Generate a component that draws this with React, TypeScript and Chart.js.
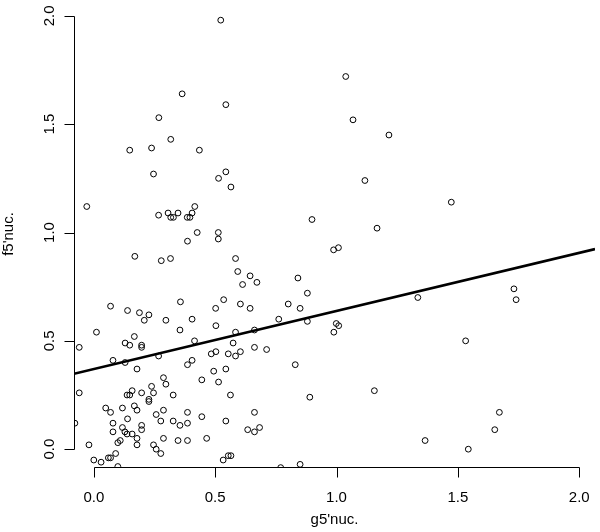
import React, { useEffect, useRef } from "react";
import { Chart, registerables } from "chart.js";

Chart.register(...registerables);

// g5'nuc. values (x)
const gValues = [
  0.523, 0.364, 0.544, 0.268, 0.317, 0.148, 0.238, 0.435, 0.246, 0.544,
  0.514, 0.565, -0.029, 0.416, 0.267, 0.306, 0.317, 0.328, 0.347, 0.385,
  0.396, 0.405, 0.426, 0.386, 0.513, 0.513, 1.038, 1.068, 1.216, 1.117,
  1.473, 0.899, 1.167, 0.988, 1.008, 0.169, 0.278, 0.316, 0.357, 0.069,
  0.139, 0.188, 0.227, 0.208, 0.297, 0.405, 0.502, 0.584, 0.593, 0.644,
  0.613, 0.672, 0.841, 0.88, 0.535, 0.604, 0.644, 0.801, 0.85, 0.762,
  0.011, -0.06, 0.129, 0.148, 0.167, 0.197, 0.197, 0.355, 0.415, 0.503,
  0.584, 0.662, 0.574, 0.079, 0.129, 0.178, 0.267, 0.405, 0.386, 0.484,
  0.503, 0.554, 0.584, 0.604, 0.662, 0.712, 0.494, 0.544, 0.445, 0.514,
  0.287, 0.297, 0.238, 0.246, 0.197, 0.158, 0.137, 0.148, -0.06, 0.227,
  0.227, 0.327, 0.563, 0.049, 0.069, 0.118, 0.167, 0.178, 0.139, 0.257,
  0.287, 0.386, 0.445, 0.662, 0.079, 0.079, 0.118, 0.128, 0.137, 0.158,
  0.197, 0.197, 0.276, 0.327, 0.355, 0.386, 0.544, 0.634, 0.662, 0.683,
  -0.078, 0.178, 0.178, 0.099, 0.109, -0.02, 0.287, 0.347, 0.386, 0.465,
  0.246, 0.257, 0.276, 0.09, 0.069, 0.06, 0.0, 0.03, 0.099, 0.533,
  0.554, 0.565, 0.83, 0.88, 0.999, 1.009, 0.989, 0.89, 0.85, 1.335,
  1.731, 1.74, 1.532, 1.156, 1.671, 1.652, 1.365, 1.543, 0.77,
];

// f5'nuc. values (y)
const fValues = [
  1.98, 1.64, 1.59, 1.53, 1.43, 1.38, 1.39, 1.38, 1.27, 1.28,
  1.25, 1.21, 1.12, 1.12, 1.08, 1.09, 1.07, 1.07, 1.09, 1.07,
  1.07, 1.09, 1.0, 0.96, 1.0, 0.97, 1.72, 1.52, 1.45, 1.24,
  1.14, 1.06, 1.02, 0.92, 0.93, 0.89, 0.87, 0.88, 0.68, 0.66,
  0.64, 0.63, 0.62, 0.595, 0.595, 0.6, 0.65, 0.88, 0.82, 0.8,
  0.76, 0.77, 0.79, 0.72, 0.69, 0.67, 0.65, 0.67, 0.65, 0.6,
  0.54, 0.47, 0.49, 0.48, 0.52, 0.48, 0.47, 0.55, 0.5, 0.57,
  0.54, 0.55, 0.49, 0.41, 0.4, 0.37, 0.43, 0.41, 0.39, 0.44,
  0.45, 0.44, 0.43, 0.45, 0.47, 0.46, 0.36, 0.37, 0.32, 0.31,
  0.33, 0.3, 0.29, 0.26, 0.26, 0.27, 0.25, 0.25, 0.26, 0.23,
  0.22, 0.25, 0.25, 0.19, 0.17, 0.19, 0.2, 0.18, 0.14, 0.16,
  0.18, 0.17, 0.15, 0.17, 0.12, 0.08, 0.1, 0.08, 0.07, 0.07,
  0.11, 0.09, 0.13, 0.13, 0.11, 0.12, 0.13, 0.09, 0.08, 0.1,
  0.12, 0.05, 0.02, 0.03, 0.04, 0.02, 0.05, 0.04, 0.04, 0.05,
  0.02, 0.0, -0.02, -0.02, -0.04, -0.04, -0.05, -0.06, -0.08, -0.05,
  -0.03, -0.03, 0.39, 0.59, 0.58, 0.57, 0.54, 0.24, -0.07, 0.7,
  0.74, 0.69, 0.5, 0.27, 0.17, 0.09, 0.04, 0.0, -0.085,
];

// fitted line
const fitIntercept = 0.37;
const fitSlope = 0.268;

// axis ranges and ticks
const xRange = [-0.0816, 2.065];
const yRange = [-0.0822, 2.05];
const xTicks = [0, 0.5, 1, 1.5, 2];
const yTicks = [0, 0.5, 1, 1.5, 2];
const xTickLabels = ["0.0", "0.5", "1.0", "1.5", "2.0"];
const yTickLabels = ["0.0", "0.5", "1.0", "1.5", "2.0"];
const xTitle = "g5'nuc.";
const yTitle = "f5'nuc.";

const FONT = "15px 'Liberation Sans', Arial, Helvetica, sans-serif";

const rAxesPlugin = {
  id: "rAxes",
  afterDraw(chart: any) {
    const { ctx, chartArea } = chart;
    const xs = chart.scales.x;
    const ys = chart.scales.y;
    ctx.save();
    ctx.strokeStyle = "#000";
    ctx.fillStyle = "#000";
    ctx.lineWidth = 1;
    ctx.font = FONT;

    // x axis
    const yAx = Math.round(chartArea.bottom) + 0.5;
    const x0 = xs.getPixelForValue(xTicks[0]);
    const x1 = xs.getPixelForValue(xTicks[xTicks.length - 1]);
    ctx.beginPath();
    ctx.moveTo(Math.round(x0) + 0.5, yAx);
    ctx.lineTo(Math.round(x1) + 0.5, yAx);
    xTicks.forEach((v) => {
      const px = Math.round(xs.getPixelForValue(v)) + 0.5;
      ctx.moveTo(px, yAx);
      ctx.lineTo(px, yAx + 10);
    });
    ctx.stroke();
    ctx.textAlign = "center";
    ctx.textBaseline = "alphabetic";
    xTicks.forEach((v, i) => {
      ctx.fillText(xTickLabels[i], xs.getPixelForValue(v), yAx + 34);
    });
    ctx.fillText(xTitle, (chartArea.left + chartArea.right) / 2, yAx + 56);

    // y axis
    const xAx = Math.round(chartArea.left) + 0.5;
    const y0 = ys.getPixelForValue(yTicks[0]);
    const y1 = ys.getPixelForValue(yTicks[yTicks.length - 1]);
    ctx.beginPath();
    ctx.moveTo(xAx, Math.round(y0) + 0.5);
    ctx.lineTo(xAx, Math.round(y1) + 0.5);
    yTicks.forEach((v) => {
      const py = Math.round(ys.getPixelForValue(v)) + 0.5;
      ctx.moveTo(xAx, py);
      ctx.lineTo(xAx - 10, py);
    });
    ctx.stroke();
    yTicks.forEach((v, i) => {
      ctx.save();
      ctx.translate(xAx - 21, ys.getPixelForValue(v));
      ctx.rotate(-Math.PI / 2);
      ctx.fillText(yTickLabels[i], 0, 0);
      ctx.restore();
    });
    ctx.save();
    ctx.translate(13, (chartArea.top + chartArea.bottom) / 2 - 2);
    ctx.rotate(-Math.PI / 2);
    ctx.fillText(yTitle, 0, 0);
    ctx.restore();

    ctx.restore();
  },
};

export default function App() {
  const canvasRef = useRef<HTMLCanvasElement | null>(null);

  useEffect(() => {
    document.body.style.margin = "0";
    const canvas = canvasRef.current;
    if (!canvas) return;
    const points = gValues.map((g, i) => ({ x: g, y: fValues[i] }));
    const fitLine = xRange.map((g) => ({ x: g, y: fitIntercept + fitSlope * g }));
    const chart = new Chart(canvas, {
      type: "scatter",
      data: {
        datasets: [
          {
            label: "points",
            data: points,
            pointStyle: "circle",
            pointRadius: 2.9,
            pointBorderWidth: 1,
            pointBorderColor: "#000",
            pointBackgroundColor: "rgba(0,0,0,0)",
            borderColor: "#000",
            backgroundColor: "rgba(0,0,0,0)",
            clip: 0,
          },
          {
            label: "fit",
            data: fitLine,
            showLine: true,
            pointRadius: 0,
            borderColor: "#000",
            borderWidth: 2.6,
            clip: 0,
          },
        ],
      },
      options: {
        responsive: false,
        animation: false,
        devicePixelRatio: 1,
        layout: { padding: { left: 74, right: 0, top: 0, bottom: 65 } },
        plugins: {
          legend: { display: false },
          tooltip: { enabled: false },
        },
        scales: {
          x: { type: "linear", min: xRange[0], max: xRange[1], display: false },
          y: { type: "linear", min: yRange[0], max: yRange[1], display: false },
        },
      },
      plugins: [rAxesPlugin],
    });
    return () => chart.destroy();
  }, []);

  return (
    <div style={{ width: 600, height: 532, background: "#fff" }}>
      <canvas ref={canvasRef} width={600} height={532} style={{ display: "block" }} />
    </div>
  );
}
